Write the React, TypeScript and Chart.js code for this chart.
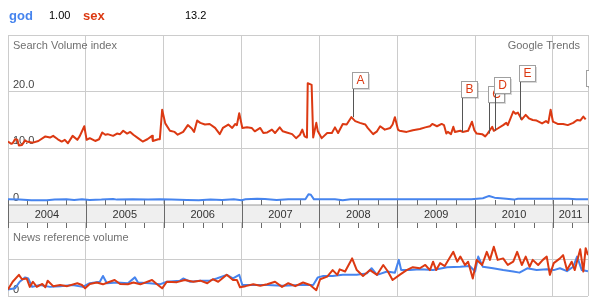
import { useEffect, useRef } from 'react';
import { Chart, registerables } from 'chart.js';

Chart.register(...registerables);

const FONT = '"Liberation Sans", Arial, sans-serif';

// ---------- data ----------
const legendNames = ['god', 'sex'];
const legendAverages = ['1.00', '13.2'];
const seriesColors = ['#4684ee', '#dc3912'];

const panelTitles = ['Search Volume index', 'News reference volume'];
const sourceLabel = 'Google Trends';

const yearLabels = ['2004', '2005', '2006', '2007', '2008', '2009', '2010', '2011'];
const yearStarts = [2004, 2005, 2006, 2007, 2008, 2009, 2010, 2011];
const rangeEnd = 2011.45;

const searchTicks = [0, 10, 20, 30];
const searchTickLabels = ['0', '10.0', '20.0', ''];
const newsTicks = [0, 1, 2];
const newsTickLabels = ['0', '', ''];

const sexSearchDates = [
  2004.0, 2004.04, 2004.06, 2004.09, 2004.12, 2004.14, 2004.18, 2004.22, 2004.24, 2004.32, 2004.39, 2004.48,
  2004.54, 2004.58, 2004.64, 2004.69, 2004.73, 2004.77, 2004.83, 2004.89, 2004.92, 2004.98, 2005.01, 2005.05,
  2005.12, 2005.17, 2005.21, 2005.25, 2005.28, 2005.35, 2005.4, 2005.44, 2005.48, 2005.53, 2005.57, 2005.61,
  2005.67, 2005.73, 2005.79, 2005.85, 2005.86, 2005.93, 2005.95, 2005.98, 2006.02, 2006.08, 2006.14, 2006.18,
  2006.25, 2006.31, 2006.36, 2006.39, 2006.43, 2006.47, 2006.53, 2006.59, 2006.66, 2006.72, 2006.76, 2006.83,
  2006.88, 2006.92, 2006.94, 2006.97, 2007.01, 2007.07, 2007.13, 2007.17, 2007.24, 2007.28, 2007.33, 2007.39,
  2007.43, 2007.49, 2007.53, 2007.58, 2007.65, 2007.7, 2007.75, 2007.78, 2007.81, 2007.84, 2007.85, 2007.9,
  2007.92, 2007.96, 2007.98, 2008.03, 2008.1, 2008.16, 2008.2, 2008.24, 2008.3, 2008.35, 2008.41, 2008.46,
  2008.52, 2008.59, 2008.62, 2008.69, 2008.74, 2008.78, 2008.84, 2008.91, 2008.94, 2008.97, 2009.01, 2009.03,
  2009.12, 2009.2, 2009.29, 2009.36, 2009.42, 2009.45, 2009.51, 2009.57, 2009.6, 2009.63, 2009.65, 2009.69,
  2009.72, 2009.74, 2009.81, 2009.84, 2009.91, 2009.96, 2009.99, 2010.02, 2010.09, 2010.13, 2010.16, 2010.22,
  2010.24, 2010.29, 2010.36, 2010.4, 2010.42, 2010.49, 2010.52, 2010.55, 2010.6, 2010.65, 2010.69, 2010.74,
  2010.79, 2010.86, 2010.91, 2010.94, 2010.97, 2011.0, 2011.06, 2011.13, 2011.19, 2011.26, 2011.31, 2011.35,
  2011.39, 2011.42,
];
const sexSearchValues = [
  11.2, 10.8, 10.9, 11.6, 11.5, 10.5, 10.6, 11.4, 11.2, 11.0, 11.3, 12.1,
  11.9, 12.2, 11.6, 11.2, 11.5, 10.9, 12.2, 11.5, 12.1, 13.9, 11.5, 11.8,
  11.3, 11.6, 12.8, 12.4, 12.5, 12.2, 12.6, 12.5, 13.1, 12.6, 12.9, 12.4,
  11.8, 11.2, 11.6, 12.2, 11.3, 11.6, 11.6, 16.8, 14.4, 13.1, 12.9, 12.4,
  12.9, 14.1, 13.5, 12.9, 14.9, 14.5, 14.2, 14.3, 13.6, 12.5, 13.6, 14.2,
  13.6, 14.3, 14.1, 16.2, 13.6, 13.7, 13.6, 13.0, 13.6, 12.7, 12.8, 13.3,
  12.7, 13.7, 13.0, 12.8, 12.5, 11.8, 12.4, 13.3, 12.1, 11.9, 21.5, 21.2,
  11.9, 14.5, 13.0, 11.8, 12.7, 12.7, 13.7, 12.7, 14.3, 14.2, 15.5, 14.8,
  14.5, 14.2, 13.6, 12.5, 13.0, 13.9, 13.3, 13.6, 14.2, 15.5, 13.3, 13.1,
  12.9, 13.2, 13.4, 13.7, 13.9, 14.3, 13.9, 14.3, 14.1, 12.6, 12.9, 12.5,
  13.8, 12.9, 13.1, 12.9, 13.1, 14.7, 13.2, 12.6, 12.5, 12.1, 12.6, 13.8,
  13.1, 13.5, 14.1, 14.5, 14.1, 16.5, 16.1, 16.3, 15.1, 15.9, 15.3, 15.0,
  14.9, 14.4, 14.8, 14.5, 16.8, 14.7, 14.3, 14.3, 14.1, 14.5, 15.0, 14.9,
  15.6, 15.1,
];

const godSearchDates = [
  2004.0, 2004.15, 2004.3, 2004.5, 2004.6, 2004.75, 2004.85, 2004.95, 2005.05, 2005.2, 2005.35, 2005.4,
  2005.6, 2005.8, 2005.95, 2006.1, 2006.3, 2006.45, 2006.6, 2006.75, 2006.9, 2007.0, 2007.05, 2007.2,
  2007.3, 2007.45, 2007.6, 2007.82, 2007.86, 2007.89, 2007.93, 2008.2, 2008.3, 2008.4, 2008.7, 2009.0,
  2009.5, 2009.95, 2010.1, 2010.18, 2010.25, 2010.4, 2010.5, 2010.55, 2010.9, 2011.2, 2011.3, 2011.45,
];
const godSearchValues = [
  1.0, 0.95, 0.85, 0.85, 0.95, 1.0, 0.9, 1.0, 0.9, 0.95, 1.05, 0.95,
  1.0, 0.95, 1.0, 0.95, 0.9, 0.85, 0.95, 0.9, 1.0, 0.85, 1.0, 1.1,
  1.05, 0.9, 1.0, 1.0, 1.9, 1.8, 1.0, 1.0, 0.85, 1.0, 1.0, 1.0,
  1.0, 1.0, 1.2, 1.6, 1.3, 1.1, 0.95, 1.1, 1.1, 1.1, 1.0, 1.0,
];

const sexNewsDates = [
  2004.0, 2004.06, 2004.14, 2004.18, 2004.24, 2004.28, 2004.32, 2004.37, 2004.44, 2004.48, 2004.51, 2004.58,
  2004.67, 2004.76, 2004.89, 2004.95, 2004.99, 2005.05, 2005.14, 2005.22, 2005.28, 2005.37, 2005.44, 2005.54,
  2005.61, 2005.7, 2005.85, 2005.91, 2005.98, 2006.04, 2006.17, 2006.27, 2006.38, 2006.47, 2006.56, 2006.63,
  2006.7, 2006.81, 2006.89, 2006.94, 2006.98, 2007.05, 2007.15, 2007.24, 2007.33, 2007.43, 2007.52, 2007.6,
  2007.69, 2007.79, 2007.88, 2007.96, 2008.01, 2008.1, 2008.17, 2008.23, 2008.26, 2008.33, 2008.42, 2008.48,
  2008.56, 2008.65, 2008.74, 2008.82, 2008.88, 2008.94, 2009.03, 2009.12, 2009.2, 2009.29, 2009.36, 2009.42,
  2009.46, 2009.5, 2009.55, 2009.61, 2009.72, 2009.77, 2009.81, 2009.87, 2009.91, 2009.97, 2010.02, 2010.09,
  2010.15, 2010.19, 2010.24, 2010.29, 2010.36, 2010.42, 2010.49, 2010.54, 2010.6, 2010.65, 2010.7, 2010.74,
  2010.81, 2010.87, 2010.92, 2010.96, 2011.01, 2011.09, 2011.13, 2011.18, 2011.24, 2011.28, 2011.35, 2011.39,
  2011.42, 2011.45,
];
const sexNewsValues = [
  0.18, 0.39, 0.58, 0.46, 0.48, 0.25, 0.39, 0.25, 0.33, 0.24, 0.42, 0.27,
  0.3, 0.27, 0.35, 0.3, 0.21, 0.33, 0.37, 0.32, 0.37, 0.44, 0.33, 0.32,
  0.37, 0.32, 0.44, 0.33, 0.21, 0.39, 0.38, 0.44, 0.39, 0.42, 0.35, 0.46,
  0.39, 0.58, 0.44, 0.44, 0.24, 0.27, 0.32, 0.28, 0.32, 0.39, 0.25, 0.35,
  0.27, 0.37, 0.3, 0.16, 0.46, 0.53, 0.71, 0.58, 0.73, 0.67, 1.03, 0.71,
  0.55, 0.71, 0.58, 0.85, 0.67, 0.44, 0.58, 0.71, 0.79, 0.76, 0.85, 0.71,
  0.94, 0.71, 0.9, 0.82, 1.21, 0.94, 1.08, 0.85, 0.94, 0.48, 0.99, 0.85,
  1.21, 0.99, 1.35, 0.99, 1.03, 0.85, 0.94, 1.21, 0.85, 1.08, 0.8, 0.99,
  0.85, 0.99, 1.08, 0.58, 0.9, 1.03, 1.12, 0.71, 0.94, 0.71, 1.28, 0.67,
  1.31, 1.12,
];

const godNewsDates = [
  2004.0, 2004.09, 2004.15, 2004.22, 2004.26, 2004.31, 2004.41, 2004.54, 2004.67, 2004.83, 2004.96, 2005.05,
  2005.18, 2005.22, 2005.27, 2005.4, 2005.54, 2005.63, 2005.67, 2005.82, 2005.95, 2006.04, 2006.21, 2006.25,
  2006.34, 2006.47, 2006.59, 2006.68, 2006.81, 2006.89, 2006.97, 2007.01, 2007.11, 2007.33, 2007.53, 2007.75,
  2007.92, 2007.98, 2008.05, 2008.17, 2008.3, 2008.48, 2008.61, 2008.67, 2008.74, 2008.87, 2008.97, 2009.02,
  2009.05, 2009.16, 2009.29, 2009.46, 2009.64, 2009.81, 2009.93, 2010.0, 2010.04, 2010.1, 2010.23, 2010.36,
  2010.49, 2010.57, 2010.67, 2010.79, 2010.92, 2011.01, 2011.09, 2011.18, 2011.26, 2011.31, 2011.37, 2011.45,
];
const godNewsValues = [
  0.18, 0.21, 0.39, 0.51, 0.48, 0.25, 0.3, 0.25, 0.27, 0.3, 0.25, 0.35,
  0.39, 0.55, 0.35, 0.37, 0.35, 0.51, 0.37, 0.35, 0.32, 0.39, 0.42, 0.48,
  0.39, 0.42, 0.42, 0.48, 0.58, 0.48, 0.58, 0.3, 0.3, 0.3, 0.28, 0.3,
  0.3, 0.51, 0.55, 0.55, 0.58, 0.58, 0.62, 0.76, 0.58, 0.67, 0.64, 0.99,
  0.71, 0.71, 0.73, 0.71, 0.79, 0.8, 0.82, 0.67, 1.08, 0.8, 0.76, 0.71,
  0.67, 0.64, 0.76, 0.71, 0.73, 0.71, 0.76, 0.68, 0.8, 1.08, 0.71, 0.68,
];

const flagLetters = ['A', 'B', 'C', 'D', 'E', 'F'];
const flagDates = [2008.43, 2009.83, 2010.18, 2010.25, 2010.58, 2011.44];
const flagHeights = [23.5, 21.9, 21.0, 22.6, 24.7, 23.8];

// ---------- helpers ----------
const toPoints = (dates: number[], values: number[]) => dates.map((d, i) => ({ x: d, y: values[i] }));

const trendsPlugin = {
  id: 'trendsDecor',
  beforeDatasetsDraw(chart: any) {
    const { ctx, chartArea } = chart;
    const xs = chart.scales.x;
    const gap = chart.scales.yGap;
    const top = chart.scales.yTop;
    const news = chart.scales.yNews;
    const bt = Math.round(gap.top);
    const bb = Math.round(gap.bottom);
    ctx.save();
    ctx.fillStyle = '#efefef';
    ctx.fillRect(chartArea.left, bt, chartArea.right - chartArea.left, bb - bt);
    ctx.lineWidth = 1;
    ctx.strokeStyle = '#c4c4c4';
    ctx.beginPath();
    ctx.moveTo(chartArea.left, bt + 0.5);
    ctx.lineTo(chartArea.right, bt + 0.5);
    ctx.moveTo(chartArea.left, bb - 0.5);
    ctx.lineTo(chartArea.right, bb - 0.5);
    ctx.stroke();

    ctx.strokeStyle = '#6a6a6a';
    ctx.beginPath();
    [...yearStarts, rangeEnd].forEach((v) => {
      const px = Math.round(xs.getPixelForValue(v)) + 0.5;
      ctx.moveTo(px, bt);
      ctx.lineTo(px, bb);
    });
    yearStarts.forEach((y) => {
      [0, 0.25, 0.5, 0.75].forEach((q) => {
        const v = y + q;
        if (v > rangeEnd) return;
        const px = Math.round(xs.getPixelForValue(v)) + 0.5;
        ctx.moveTo(px, bt - 5);
        ctx.lineTo(px, bt);
        ctx.moveTo(px, bb);
        ctx.lineTo(px, bb + 5);
      });
    });
    ctx.stroke();

    ctx.font = `11px ${FONT}`;
    ctx.textBaseline = 'middle';
    ctx.textAlign = 'center';
    ctx.fillStyle = '#333';
    yearLabels.forEach((lab, i) => {
      const a = xs.getPixelForValue(yearStarts[i]);
      const b = xs.getPixelForValue(i + 1 < yearStarts.length ? yearStarts[i + 1] : rangeEnd);
      ctx.fillText(lab, (a + b) / 2, (bt + bb) / 2 + 1);
    });

    ctx.fillStyle = '#707070';
    ctx.textAlign = 'left';
    ctx.fillText(panelTitles[0], chartArea.left + 5, top.top + 11);
    ctx.fillText(panelTitles[1], chartArea.left + 5, news.top + 15);
    ctx.textAlign = 'right';
    ctx.fillText(sourceLabel, chartArea.right - 8, top.top + 11);
    ctx.restore();
  },
  afterDatasetsDraw(chart: any) {
    const { ctx, chartArea } = chart;
    const xs = chart.scales.x;
    const yT = chart.scales.yTop;
    const size = 16;
    const lastDate = sexSearchDates[sexSearchDates.length - 1];
    ctx.save();
    ctx.beginPath();
    ctx.rect(chartArea.left, 0, chartArea.right - chartArea.left + 1, chartArea.bottom);
    ctx.clip();
    flagLetters.forEach((letter, i) => {
      const px = Math.round(xs.getPixelForValue(flagDates[i]));
      const boxTop = Math.round(yT.getPixelForValue(flagHeights[i]));
      if (flagDates[i] <= lastDate) {
        let best = 0;
        sexSearchDates.forEach((d, j) => {
          if (Math.abs(d - flagDates[i]) < Math.abs(sexSearchDates[best] - flagDates[i])) best = j;
        });
        const py = yT.getPixelForValue(sexSearchValues[best]);
        ctx.strokeStyle = '#555';
        ctx.lineWidth = 1;
        ctx.beginPath();
        ctx.moveTo(px + 0.5, boxTop + size);
        ctx.lineTo(px + 0.5, py);
        ctx.stroke();
      }
      ctx.fillStyle = 'rgba(0,0,0,0.15)';
      ctx.fillRect(px + 1, boxTop + 2, size, size);
      ctx.fillStyle = '#ffffff';
      ctx.fillRect(px, boxTop, size, size);
      ctx.strokeStyle = '#a0a0a0';
      ctx.lineWidth = 1;
      ctx.strokeRect(px - 0.5, boxTop + 0.5, size, size);
      ctx.fillStyle = seriesColors[1];
      ctx.font = `12px ${FONT}`;
      ctx.textAlign = 'center';
      ctx.textBaseline = 'middle';
      ctx.fillText(letter, px + 7.5, boxTop + 9);
    });
    ctx.restore();
  },
  afterDraw(chart: any) {
    const { ctx } = chart;
    ctx.save();
    ctx.textBaseline = 'middle';
    ctx.textAlign = 'left';
    const nameX = [9, 83];
    const valX = [49, 185];
    legendNames.forEach((name, i) => {
      ctx.font = `bold 13px ${FONT}`;
      ctx.fillStyle = seriesColors[i];
      ctx.fillText(name, nameX[i], 16);
      ctx.font = `11px ${FONT}`;
      ctx.fillStyle = '#000';
      ctx.fillText(legendAverages[i], valX[i], 16);
    });
    ctx.restore();
  },
};

export default function App() {
  const ref = useRef<HTMLCanvasElement | null>(null);

  useEffect(() => {
    if (!ref.current) return;
    const tickFont = { family: FONT, size: 11 };
    const chart = new Chart(ref.current, {
      type: 'line',
      data: {
        datasets: [
          {
            label: legendNames[1],
            data: toPoints(sexSearchDates, sexSearchValues),
            yAxisID: 'yTop',
            borderColor: seriesColors[1],
            borderWidth: 2,
          },
          {
            label: legendNames[0],
            data: toPoints(godSearchDates, godSearchValues),
            yAxisID: 'yTop',
            borderColor: seriesColors[0],
            borderWidth: 2,
          },
          {
            label: legendNames[1] + ' news',
            data: toPoints(sexNewsDates, sexNewsValues),
            yAxisID: 'yNews',
            borderColor: seriesColors[1],
            borderWidth: 2,
          },
          {
            label: legendNames[0] + ' news',
            data: toPoints(godNewsDates, godNewsValues),
            yAxisID: 'yNews',
            borderColor: seriesColors[0],
            borderWidth: 2,
          },
        ],
      },
      options: {
        animation: false,
        responsive: false,
        events: [],
        layout: { padding: { left: -2, right: 17, top: 35, bottom: 12 } },
        plugins: { legend: { display: false }, tooltip: { enabled: false } },
        elements: {
          point: { radius: 0 },
          line: { tension: 0, borderJoinStyle: 'round', fill: false },
        },
        scales: {
          x: {
            type: 'linear',
            min: 2004,
            max: rangeEnd,
            afterBuildTicks: (s: any) => {
              s.ticks = [...yearStarts, rangeEnd].map((value) => ({ value }));
            },
            grid: { color: '#cccccc', drawTicks: false },
            border: { display: false },
            ticks: { display: false, autoSkip: false },
          },
          yNews: {
            type: 'linear',
            position: 'left',
            stack: 'panels',
            stackWeight: 73,
            weight: 1,
            min: 0,
            max: 2,
            afterBuildTicks: (s: any) => {
              s.ticks = newsTicks.map((value) => ({ value }));
            },
            grid: { color: '#cccccc', drawTicks: false },
            border: { display: false },
            ticks: {
              mirror: true,
              padding: 5,
              labelOffset: -6,
              autoSkip: false,
              color: '#444',
              font: tickFont,
              callback: (_v: any, i: number) => newsTickLabels[i],
            },
          },
          yGap: {
            type: 'linear',
            position: 'left',
            stack: 'panels',
            stackWeight: 18,
            weight: 2,
            min: 0,
            max: 1,
            grid: { display: false, drawTicks: false },
            border: { display: false },
            ticks: { display: false },
          },
          yTop: {
            type: 'linear',
            position: 'left',
            stack: 'panels',
            stackWeight: 170,
            weight: 3,
            min: 0,
            max: 30,
            afterBuildTicks: (s: any) => {
              s.ticks = searchTicks.map((value) => ({ value }));
            },
            grid: { color: '#cccccc', drawTicks: false },
            border: { display: false },
            ticks: {
              mirror: true,
              padding: 5,
              labelOffset: -7,
              autoSkip: false,
              color: '#444',
              font: tickFont,
              callback: (_v: any, i: number) => searchTickLabels[i],
            },
          },
        },
      } as any,
      plugins: [trendsPlugin],
    });
    return () => chart.destroy();
  }, []);

  return (
    <div style={{ position: 'absolute', left: 0, top: 0, width: 605, height: 308, background: '#fff' }}>
      <canvas ref={ref} width={605} height={308} style={{ display: 'block' }} />
    </div>
  );
}
